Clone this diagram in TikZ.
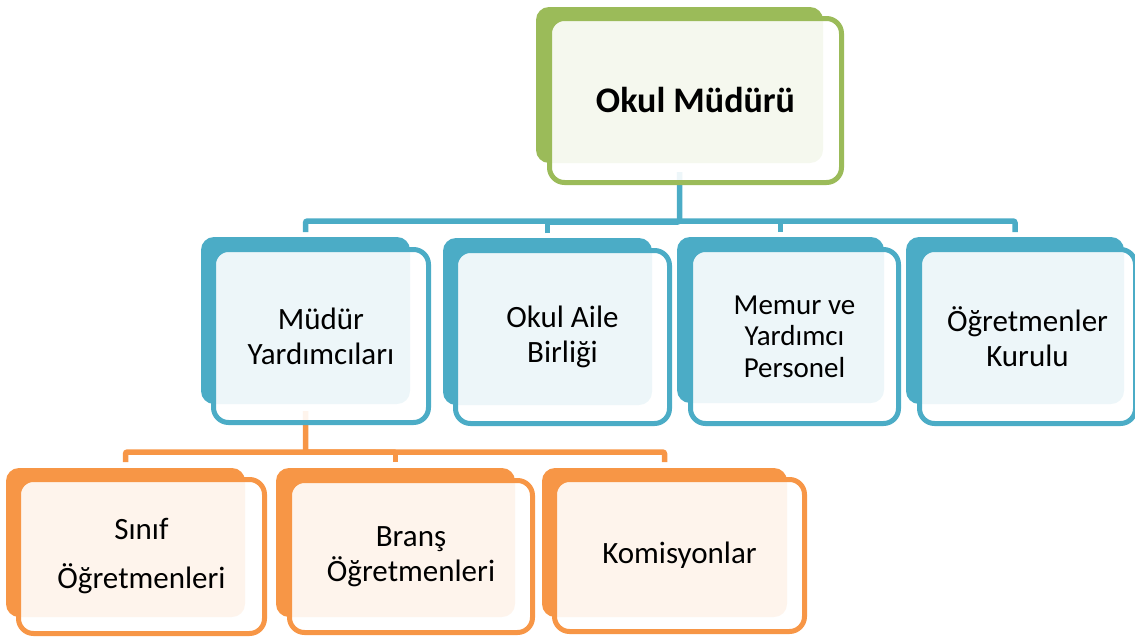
\documentclass[tikz,border=0pt]{standalone}
\usepackage{fontspec}
\setmainfont{Carlito}
\usetikzlibrary{backgrounds}
\definecolor{cgreen}{HTML}{9BBB59}
\definecolor{cblue}{HTML}{4BACC6}
\definecolor{corange}{HTML}{F79646}
\tikzset{
  backbox/.style={fill=#1, draw=none, rounded corners=13pt, inner sep=0pt, outer sep=0pt},
  frontbox/.style={draw=#1, line width=5pt, fill=white, fill opacity=0.9, text opacity=1,
    rounded corners=15pt, inner sep=0pt, outer sep=0pt, align=center, text=black,
    font=\fontsize{31}{35}\selectfont},
  conn/.style={draw=#1, line width=5.5pt, rounded corners=2pt},
}
\begin{document}
\begin{tikzpicture}[x=1pt,y=-1pt]
\useasboundingbox (0,0) rectangle (1135,637);
% top
\node[backbox=cgreen, minimum width=287pt, minimum height=156pt] (b0) at (679.5,85) {};
\node[frontbox=cgreen, minimum width=292pt, minimum height=164pt, font=\fontsize{36}{40}\selectfont\bfseries] (f0) at (695.5,100.5) {Okul Müdürü};
% blue row
\node[backbox=cblue, minimum width=209pt, minimum height=167pt] (b1) at (305.5,320.5) {};
\node[frontbox=cblue, minimum width=215pt, minimum height=173pt] (f1) at (321,336) {Müdür\\Yardımcıları};
\node[backbox=cblue, minimum width=209pt, minimum height=167pt] (b2) at (547.5,321.5) {};
\node[frontbox=cblue, minimum width=214pt, minimum height=173pt] (f2) at (562.5,337) {Okul Aile\\Birliği};
\node[backbox=cblue, minimum width=207pt, minimum height=166pt] (b3) at (780.5,320) {};
\node[frontbox=cblue, minimum width=208pt, minimum height=174pt, font=\fontsize{29}{31.5}\selectfont] (f3) at (794.5,336.5) {Memur ve\\Yardımcı\\Personel};
\node[backbox=cblue, minimum width=218pt, minimum height=167pt] (b4) at (1015,320.5) {};
\node[frontbox=cblue, minimum width=216pt, minimum height=174pt] (f4) at (1027.5,336.5) {Öğretmenler\\Kurulu};
% orange row
\node[backbox=corange, minimum width=239pt, minimum height=149pt] (o1) at (125.5,542.5) {};
\node[frontbox=corange, minimum width=246pt, minimum height=154pt] (g1) at (141.5,556.5) {Sınıf\\[14pt]Öğretmenleri};
\node[backbox=corange, minimum width=239pt, minimum height=149pt] (o2) at (395.5,542.5) {};
\node[frontbox=corange, minimum width=243pt, minimum height=152pt] (g2) at (411,556.5) {Branş\\Öğretmenleri};
\node[backbox=corange, minimum width=245pt, minimum height=149pt] (o3) at (664.5,542.5) {};
\node[frontbox=corange, minimum width=250pt, minimum height=152pt] (g3) at (679.5,555.5) {Komisyonlar};
% connectors
\begin{scope}[on background layer]
\draw[conn=cblue] ([yshift=-9pt]b0.south) |- ([yshift=16pt]b2.north);
\draw[conn=cblue] ([yshift=5pt]b1.north) -- ([yshift=16pt]b1.north) -- ([yshift=16pt]b4.north) -- ([yshift=5pt]b4.north);
\draw[conn=cblue] ([yshift=5pt]b2.north) -- ([yshift=16pt]b2.north);
\draw[conn=cblue] ([yshift=5pt]b3.north) -- ([yshift=16pt]b3.north);
\draw[conn=corange] ([yshift=-7pt]b1.south) |- ([yshift=16pt]o2.north);
\draw[conn=corange] ([yshift=6pt]o1.north) -- ([yshift=16pt]o1.north) -- ([yshift=16pt]o3.north) -- ([yshift=6pt]o3.north);
\draw[conn=corange] ([yshift=6pt]o2.north) -- ([yshift=16pt]o2.north);
\end{scope}
\end{tikzpicture}
\end{document}
